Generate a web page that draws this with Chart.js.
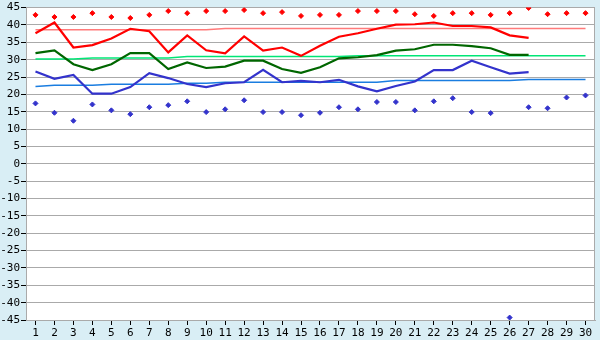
<!DOCTYPE html>
<html>
<head>
<meta charset="utf-8">
<script src="https://cdn.jsdelivr.net/npm/chart.js@4"></script>
<style>
  html, body { margin: 0; padding: 0; background: #d9eef5; }
  #wrap { width: 600px; height: 340px; }
</style>
</head>
<body>
<div id="wrap"><canvas id="tempChart" width="600" height="340"></canvas></div>
<script>
// dias do mês
const dias = ['1','2','3','4','5','6','7','8','9','10','11','12','13','14','15',
  '16','17','18','19','20','21','22','23','24','25','26','27','28','29','30'];

// recordes (pontos)
const recordeMax = [42.9, 42.3, 42.3, 43.4, 42.3, 42.0, 42.9, 44.0, 43.4, 44.0,
  44.0, 44.3, 43.4, 43.7, 42.6, 42.9, 42.9, 44.0, 44.0, 44.0,
  43.1, 42.6, 43.4, 43.4, 42.9, 43.4, 44.9, 43.1, 43.4, 43.4];
const recordeMin = [17.4, 14.7, 12.4, 17.1, 15.4, 14.3, 16.3, 16.9, 18.0, 14.9,
  15.7, 18.3, 14.9, 14.9, 14.0, 14.7, 16.3, 15.7, 17.8, 17.8,
  15.4, 18.0, 18.9, 14.9, 14.6, -44.3, 16.3, 16.0, 19.1, 19.7];

// valores observados (dias 1 a 27)
const tempMax = [37.6, 40.7, 33.5, 34.2, 36.1, 38.9, 38.2, 32.1, 37.0, 32.7,
  31.8, 36.7, 32.6, 33.5, 31.1, 34.0, 36.6, 37.6, 38.9, 40.1,
  40.2, 40.7, 39.7, 39.7, 39.3, 37.0, 36.3];
const tempMed = [31.9, 32.7, 28.7, 27.0, 28.7, 31.9, 31.9, 27.3, 29.2, 27.6,
  28.0, 29.7, 29.7, 27.3, 26.2, 27.8, 30.4, 30.7, 31.3, 32.6,
  33.0, 34.3, 34.3, 33.9, 33.3, 31.4, 31.4];
const tempMin = [26.6, 24.5, 25.6, 20.2, 20.2, 22.1, 26.1, 24.7, 23.0, 22.1,
  23.2, 23.5, 27.1, 23.5, 23.9, 23.5, 24.2, 22.3, 20.9, 22.4,
  23.7, 27.0, 27.0, 29.7, 27.8, 26.0, 26.4];

// normais
const normalMax = [38.6, 38.6, 38.6, 38.6, 38.6, 38.6, 38.6, 38.6, 38.6, 38.6,
  39.0, 39.0, 39.0, 39.0, 39.0, 39.0, 39.0, 39.0, 39.0, 39.0,
  39.0, 39.0, 39.0, 39.0, 39.0, 39.0, 39.0, 39.0, 39.0, 39.0];
const normalMed = [30.2, 30.2, 30.2, 30.5, 30.5, 30.5, 30.5, 30.5, 30.9, 30.9,
  30.9, 30.9, 30.9, 30.9, 30.9, 30.9, 30.9, 31.1, 31.1, 31.1,
  31.1, 31.1, 31.1, 31.1, 31.1, 31.1, 31.1, 31.1, 31.1, 31.1];
const normalMin = [22.3, 22.6, 22.6, 22.6, 22.9, 22.9, 22.9, 22.9, 23.2, 23.2,
  23.5, 23.5, 23.5, 23.5, 23.5, 23.5, 23.5, 23.5, 23.5, 24.0,
  24.0, 24.0, 24.0, 24.0, 24.0, 24.0, 24.3, 24.3, 24.3, 24.3];

// fundo: canvas azul claro, área do gráfico branca
const fundo = {
  id: 'fundo',
  beforeDraw(chart) {
    const { ctx, chartArea: a } = chart;
    ctx.save();
    ctx.fillStyle = '#d9eef5';
    ctx.fillRect(0, 0, chart.width, chart.height);
    ctx.fillStyle = '#ffffff';
    ctx.fillRect(a.left, a.top, a.right - a.left, a.bottom - a.top);
    ctx.restore();
  },
  beforeDatasetsDraw(chart) {
    const { ctx, chartArea: a } = chart;
    ctx.save();
    ctx.strokeStyle = '#aaaaaa';
    ctx.lineWidth = 1;
    ctx.beginPath();
    ctx.moveTo(a.right - 0.5, a.top);
    ctx.lineTo(a.right - 0.5, a.bottom);
    ctx.stroke();
    ctx.restore();
  }
};

function linha(data, cor, largura) {
  return {
    data: data,
    borderColor: cor,
    backgroundColor: cor,
    borderWidth: largura,
    pointRadius: 0,
    tension: 0,
    fill: false
  };
}

function pontos(data, cor) {
  return {
    data: data,
    showLine: false,
    borderColor: cor,
    backgroundColor: cor,
    pointStyle: 'rectRot',
    pointRadius: 2.5,
    pointBorderWidth: 1
  };
}

const ctx = document.getElementById('tempChart').getContext('2d');
const chart = new Chart(ctx, {
  type: 'line',
  data: {
    labels: dias,
    datasets: [
      pontos(recordeMax, '#ff0000'),
      pontos(recordeMin, '#3333cc'),
      linha(tempMax, '#ff0000', 2.2),
      linha(tempMed, '#006600', 2.2),
      linha(tempMin, '#3333cc', 2.2),
      linha(normalMax, '#ff7a7a', 1.5),
      linha(normalMed, '#00e676', 1.5),
      linha(normalMin, '#1a7de0', 1.5)
    ]
  },
  plugins: [fundo],
  options: {
    responsive: false,
    animation: false,
    layout: { padding: { top: 5, right: 4, left: 0, bottom: 0 } },
    plugins: {
      legend: { display: false },
      tooltip: { enabled: false }
    },
    scales: {
      x: {
        offset: true,
        grid: {
          offset: false,
          drawOnChartArea: false,
          drawTicks: true,
          tickLength: 5,
          tickColor: '#000000'
        },
        border: { color: '#aaaaaa' },
        ticks: {
          color: '#000000',
          font: { family: 'DejaVu Sans Mono', size: 11 },
          padding: 2,
          maxRotation: 0,
          autoSkip: false
        },
        afterFit(scale) { scale.height = 20; }
      },
      y: {
        min: -45,
        max: 45,
        grid: {
          color: '#aaaaaa',
          lineWidth: 1,
          tickLength: 5,
          tickColor: '#000000'
        },
        border: { color: '#aaaaaa' },
        ticks: {
          stepSize: 5,
          color: '#000000',
          font: { family: 'DejaVu Sans Mono', size: 11 },
          padding: 1
        },
        afterFit(scale) { scale.width = 26; }
      }
    }
  }
});
</script>
</body>
</html>
